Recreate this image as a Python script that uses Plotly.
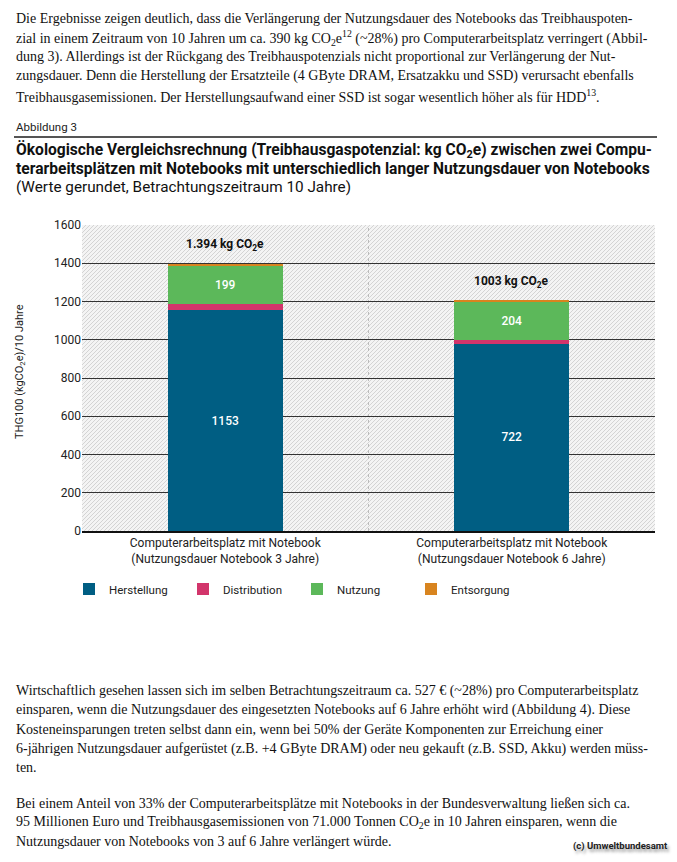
import base64

import plotly.graph_objects as go

# --- data -----------------------------------------------------------------
categories = [
    "Computerarbeitsplatz mit Notebook<br>(Nutzungsdauer Notebook 3 Jahre)",
    "Computerarbeitsplatz mit Notebook<br>(Nutzungsdauer Notebook 6 Jahre)",
]
herstellung = [1153, 980]
distribution = [35, 20]
nutzung = [199, 200]
entsorgung = [7, 4]

herstellung_labels = ["1153", "722"]
nutzung_labels = ["199", "204"]
total_labels = ["1.394 kg CO<sub>2</sub>e", "1003 kg CO<sub>2</sub>e"]

y_ticks = [0, 200, 400, 600, 800, 1000, 1200, 1400, 1600]

series_names = ["Herstellung", "Distribution", "Nutzung", "Entsorgung"]
series_colors = ["#005e83", "#d2356b", "#5cb85a", "#d8841f"]

intro_lines = [
    "Die Ergebnisse zeigen deutlich, dass die Verlängerung der Nutzungsdauer des Notebooks das Treibhauspoten-",
    "zial in einem Zeitraum von 10 Jahren um ca. 390 kg CO<sub>2</sub>e<sup>12</sup> (~28%) pro Computerarbeitsplatz verringert (Abbil-",
    "dung 3). Allerdings ist der Rückgang des Treibhauspotenzials nicht proportional zur Verlängerung der Nut-",
    "zungsdauer. Denn die Herstellung der Ersatzteile (4 GByte DRAM, Ersatzakku und SSD) verursacht ebenfalls",
    "Treibhausgasemissionen. Der Herstellungsaufwand einer SSD ist sogar wesentlich höher als für HDD<sup>13</sup>.",
]
outro_lines = [
    "Wirtschaftlich gesehen lassen sich im selben Betrachtungszeitraum ca. 527 € (~28%) pro Computerarbeitsplatz",
    "einsparen, wenn die Nutzungsdauer des eingesetzten Notebooks auf 6 Jahre erhöht wird (Abbildung 4). Diese",
    "Kosteneinsparungen treten selbst dann ein, wenn bei 50% der Geräte Komponenten zur Erreichung einer",
    "6-jährigen Nutzungsdauer aufgerüstet (z.B. +4 GByte DRAM) oder neu gekauft (z.B. SSD, Akku) werden müss-",
    "ten.",
]
closing_lines = [
    "Bei einem Anteil von 33% der Computerarbeitsplätze mit Notebooks in der Bundesverwaltung ließen sich ca.",
    "95 Millionen Euro und Treibhausgasemissionen von 71.000 Tonnen CO<sub>2</sub>e in 10 Jahren einsparen, wenn die",
    "Nutzungsdauer von Notebooks von 3 auf 6 Jahre verlängert würde.",
]
title_lines = [
    "<b>Ökologische Vergleichsrechnung (Treibhausgaspotenzial: kg CO<sub>2</sub>e) zwischen zwei Compu-</b>",
    "<b>terarbeitsplätzen mit Notebooks mit unterschiedlich langer Nutzungsdauer von Notebooks</b>",
    "(Werte gerundet, Betrachtungszeitraum 10 Jahre)",
]

# --- page geometry (pixels) ----------------------------------------------
WIDTH, HEIGHT = 677, 862
PLOT_LEFT, PLOT_RIGHT = 82, 655
PLOT_TOP, PLOT_BOTTOM = 225, 531
PLOT_W = PLOT_RIGHT - PLOT_LEFT
PLOT_H = PLOT_BOTTOM - PLOT_TOP

SERIF = "Liberation Serif"
SANS = "Roboto"


def px_x(px):
    return (px - PLOT_LEFT) / PLOT_W


def px_y(py):
    return (PLOT_BOTTOM - py) / PLOT_H


def hatch_uri():
    svg = (
        f'<svg xmlns="http://www.w3.org/2000/svg" width="{PLOT_W}" height="{PLOT_H}">'
        '<defs><pattern id="h" patternUnits="userSpaceOnUse" width="4" height="4">'
        '<path d="M-1,1 l2,-2 M0,4 l4,-4 M3,5 l2,-2" stroke="#cbcbcb" stroke-width="0.8"/>'
        "</pattern></defs>"
        '<rect width="100%" height="100%" fill="#f4f4f4"/>'
        '<rect width="100%" height="100%" fill="url(#h)"/>'
        "</svg>"
    )
    return "data:image/svg+xml;base64," + base64.b64encode(svg.encode()).decode()


fig = go.Figure()

series_values = [herstellung, distribution, nutzung, entsorgung]
series_text = [herstellung_labels, None, nutzung_labels, None]
for name, values, color, text in zip(series_names, series_values, series_colors, series_text):
    fig.add_trace(
        go.Bar(
            x=categories,
            y=values,
            name=name,
            marker={"color": color, "line": {"width": 0}},
            width=0.4,
            text=text,
            textposition="inside" if text else "none",
            insidetextanchor="middle",
            textfont={"family": SANS, "size": 12, "color": "white", "weight": 500},
            textangle=0,
            hoverinfo="skip",
        )
    )

totals = [sum(parts) for parts in zip(*series_values)]
annotations = []
for category, total, label in zip(categories, totals, total_labels):
    annotations.append(
        dict(
            x=category, y=total, xref="x", yref="y", text=f"<b>{label}</b>",
            showarrow=False, yanchor="middle", yshift=19,
            font={"family": SANS, "size": 12, "color": "#111"},
        )
    )


def add_lines(lines, top_y, spacing, font, x_px=14):
    for i, line in enumerate(lines):
        annotations.append(
            dict(
                x=px_x(x_px), y=px_y(top_y + i * spacing), xref="paper", yref="paper",
                text=line, showarrow=False, xanchor="left", yanchor="middle",
                font=font,
            )
        )


body_font = {"family": SERIF, "size": 14, "color": "#111"}
add_lines(intro_lines, 18, 19.5, body_font)
add_lines(outro_lines, 691, 19.2, body_font)
add_lines(closing_lines, 803, 19.2, body_font)
add_lines(["Abbildung 3"], 127, 0, {"family": SANS, "size": 11.5, "color": "#222"})
add_lines(title_lines[:2], 150, 19, {"family": SANS, "size": 15.6, "color": "#111"})
add_lines(title_lines[2:], 187, 0, {"family": SANS, "size": 15.3, "color": "#111"})

annotations.append(
    dict(
        x=px_x(620), y=px_y(846), xref="paper", yref="paper",
        text="<b>(c) Umweltbundesamt</b>", showarrow=False,
        xanchor="center", yanchor="middle",
        font={"family": SANS, "size": 9.5, "color": "#222", "shadow": "2px 3px 3px #999"},
    )
)
annotations.append(
    dict(
        x=px_x(20), y=px_y(372), xref="paper", yref="paper",
        text="THG100 (kgCO<sub>2</sub>e)/10 Jahre", showarrow=False, textangle=-90,
        xanchor="center", yanchor="middle",
        font={"family": SANS, "size": 11, "color": "#222"},
    )
)

shapes = [
    dict(
        type="line", xref="paper", yref="paper",
        x0=px_x(14), x1=px_x(657), y0=px_y(137), y1=px_y(137),
        line={"color": "#555", "width": 2},
    ),
    dict(
        type="line", xref="paper", yref="paper",
        x0=0.5, x1=0.5, y0=0, y1=1,
        line={"color": "#bbbbbb", "width": 1, "dash": "dot"},
        layer="below",
    ),
]

fig.update_layout(
    width=WIDTH,
    height=HEIGHT,
    barmode="stack",
    margin={"l": PLOT_LEFT, "r": WIDTH - PLOT_RIGHT, "t": PLOT_TOP, "b": HEIGHT - PLOT_BOTTOM},
    paper_bgcolor="white",
    plot_bgcolor="rgba(0,0,0,0)",
    font={"family": SANS, "size": 12, "color": "#222"},
    showlegend=True,
    legend={
        "orientation": "h",
        "x": px_x(69), "y": px_y(589),
        "xanchor": "left", "yanchor": "middle",
        "entrywidth": 69, "entrywidthmode": "pixels",
        "font": {"family": SANS, "size": 11.5, "color": "#222"},
        "itemclick": False,
        "traceorder": "normal",
    },
    annotations=annotations,
    shapes=shapes,
    images=[
        dict(
            source=hatch_uri(), xref="paper", yref="paper",
            x=0, y=1, sizex=1, sizey=1, sizing="stretch",
            xanchor="left", yanchor="top", layer="below",
        )
    ],
)
fig.update_xaxes(
    showgrid=False, showline=True, linecolor="#111", linewidth=2,
    ticks="", tickfont={"family": SANS, "size": 12, "color": "#222"},
    range=[-0.5, 1.5], fixedrange=True,
)
fig.update_yaxes(
    range=[0, 1600], tickvals=y_ticks, showgrid=True, gridcolor="#333", gridwidth=1,
    zeroline=False, ticks="", showline=False,
    tickfont={"family": SANS, "size": 12, "color": "#222"},
    fixedrange=True,
)

fig.write_html(
    "out.html",
    config={"displayModeBar": False},
    post_script="document.body.style.margin = '0';",
)
